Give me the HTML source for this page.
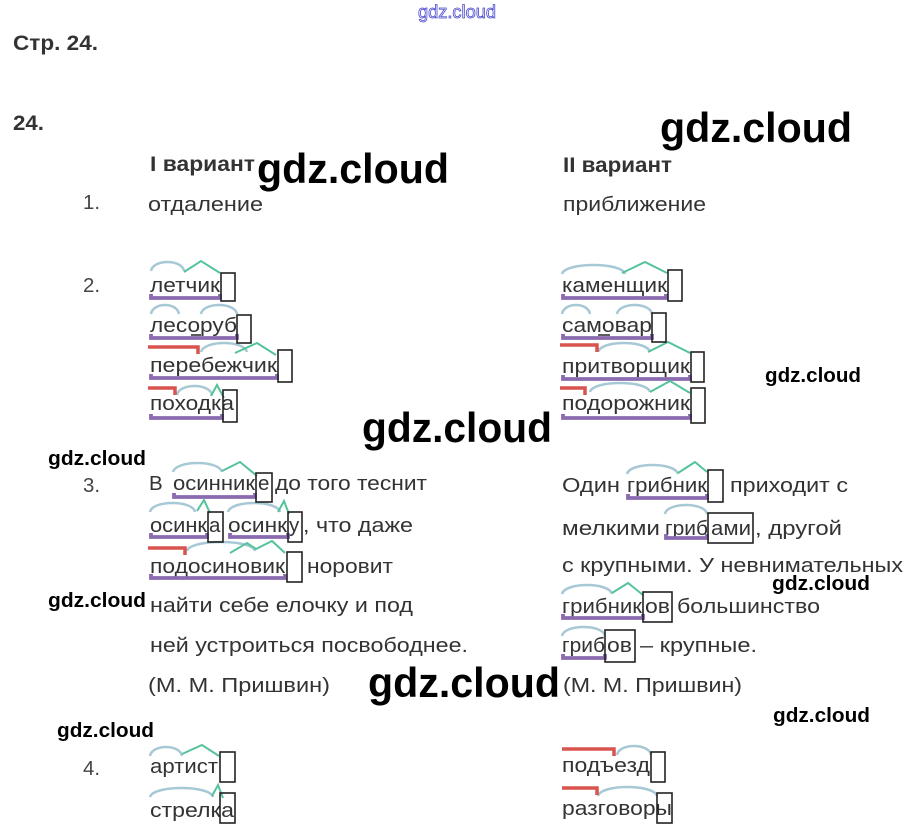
<!DOCTYPE html>
<html><head><meta charset="utf-8">
<style>
html,body{margin:0;padding:0;background:#fff;}
svg{display:block;}
text{font-family:"Liberation Sans",Arial,sans-serif;}
.t{font-size:20.5px;fill:#333;}
.n{font-size:20px;fill:#444;}
.b{font-size:21px;fill:#333;font-weight:bold;}
.wm{font-size:42px;fill:#000;font-weight:bold;}
.ws{font-size:20px;fill:#000;font-weight:bold;}
.arc{fill:none;stroke:#a7c8d5;stroke-width:2.5;}
.grn{fill:none;stroke:#55c39a;stroke-width:2;stroke-linejoin:miter;}
.pur{fill:none;stroke:#8a6bb0;stroke-width:3.8;}
.red{fill:none;stroke:#d9534f;stroke-width:3.5;}
.box{fill:none;stroke:#222;stroke-width:1.6;}
.ou{stroke:#333;stroke-width:1.6;}
</style></head>
<body>
<svg width="914" height="838" viewBox="0 0 914 838" xmlns="http://www.w3.org/2000/svg">
<rect width="914" height="838" fill="#fff"/>

<!-- header -->
<text x="418" y="18" font-size="18" fill="none" stroke="#4a4ad0" stroke-width="0.8" textLength="78" lengthAdjust="spacingAndGlyphs">gdz.cloud</text>
<text class="b" x="13" y="50" textLength="85" lengthAdjust="spacingAndGlyphs">Стр. 24.</text>
<text class="b" x="13" y="130" textLength="31" lengthAdjust="spacingAndGlyphs">24.</text>
<text class="b" x="150" y="171" textLength="105" lengthAdjust="spacingAndGlyphs">I вариант</text>
<text class="b" x="563" y="172" textLength="109" lengthAdjust="spacingAndGlyphs">II вариант</text>

<!-- numbers -->
<text class="n" x="83" y="209" textLength="17" lengthAdjust="spacingAndGlyphs">1.</text>
<text class="n" x="83" y="292" textLength="17" lengthAdjust="spacingAndGlyphs">2.</text>
<text class="n" x="83" y="492" textLength="17" lengthAdjust="spacingAndGlyphs">3.</text>
<text class="n" x="83" y="775" textLength="17" lengthAdjust="spacingAndGlyphs">4.</text>

<!-- section 1 -->
<text class="t" x="148" y="211" textLength="115" lengthAdjust="spacingAndGlyphs">отдаление</text>
<text class="t" x="563" y="211" textLength="143" lengthAdjust="spacingAndGlyphs">приближение</text>

<!-- section 2 left -->
<text class="t" x="150" y="292" textLength="70" lengthAdjust="spacingAndGlyphs">летчик</text>
<text class="t" x="150" y="332" textLength="87" lengthAdjust="spacingAndGlyphs">лесоруб</text>
<text class="t" x="150" y="372" textLength="127" lengthAdjust="spacingAndGlyphs">перебежчик</text>
<text class="t" x="150" y="410" textLength="84" lengthAdjust="spacingAndGlyphs">походка</text>

<!-- section 2 right -->
<text class="t" x="562" y="292" textLength="105" lengthAdjust="spacingAndGlyphs">каменщик</text>
<text class="t" x="562" y="332" textLength="90" lengthAdjust="spacingAndGlyphs">самовар</text>
<text class="t" x="562" y="373" textLength="128" lengthAdjust="spacingAndGlyphs">притворщик</text>
<text class="t" x="562" y="410" textLength="128" lengthAdjust="spacingAndGlyphs">подорожник</text>

<!-- section 3 left -->
<text class="t" x="149" y="490">В</text>
<text class="t" x="173" y="490" textLength="82" lengthAdjust="spacingAndGlyphs">осинник</text>
<text class="t" x="258" y="490">е</text>
<text class="t" x="275" y="490" textLength="152" lengthAdjust="spacingAndGlyphs">до того теснит</text>

<text class="t" x="150" y="532" textLength="57" lengthAdjust="spacingAndGlyphs">осинк</text>
<text class="t" x="209" y="532">а</text>
<text class="t" x="228" y="532" textLength="59" lengthAdjust="spacingAndGlyphs">осинк</text>
<text class="t" x="289" y="532">у</text>
<text class="t" x="303" y="532" textLength="110" lengthAdjust="spacingAndGlyphs">, что даже</text>

<text class="t" x="150" y="573" textLength="135" lengthAdjust="spacingAndGlyphs">подосиновик</text>
<text class="t" x="307" y="573" textLength="86" lengthAdjust="spacingAndGlyphs">норовит</text>
<text class="t" x="150" y="612" textLength="263" lengthAdjust="spacingAndGlyphs">найти себе елочку и под</text>
<text class="t" x="150" y="652" textLength="318" lengthAdjust="spacingAndGlyphs">ней устроиться посвободнее.</text>
<text class="t" x="148" y="692" textLength="182" lengthAdjust="spacingAndGlyphs">(М. М. Пришвин)</text>

<!-- section 3 right -->
<text class="t" x="562" y="492" textLength="58" lengthAdjust="spacingAndGlyphs">Один</text>
<text class="t" x="627" y="492" textLength="80" lengthAdjust="spacingAndGlyphs">грибник</text>
<text class="t" x="730" y="492" textLength="118" lengthAdjust="spacingAndGlyphs">приходит с</text>

<text class="t" x="562" y="535" textLength="98" lengthAdjust="spacingAndGlyphs">мелкими</text>
<text class="t" x="665" y="535" textLength="43" lengthAdjust="spacingAndGlyphs">гриб</text>
<text class="t" x="711" y="535" textLength="40" lengthAdjust="spacingAndGlyphs">ами</text>
<text class="t" x="755" y="535" textLength="87" lengthAdjust="spacingAndGlyphs">, другой</text>

<text class="t" x="562" y="572" textLength="341" lengthAdjust="spacingAndGlyphs">с крупными. У невнимательных</text>

<text class="t" x="562" y="613" textLength="80" lengthAdjust="spacingAndGlyphs">грибник</text>
<text class="t" x="645" y="613" textLength="25" lengthAdjust="spacingAndGlyphs">ов</text>
<text class="t" x="677" y="613" textLength="143" lengthAdjust="spacingAndGlyphs">большинство</text>

<text class="t" x="562" y="652" textLength="43" lengthAdjust="spacingAndGlyphs">гриб</text>
<text class="t" x="607" y="652" textLength="25" lengthAdjust="spacingAndGlyphs">ов</text>
<text class="t" x="640" y="652" textLength="117" lengthAdjust="spacingAndGlyphs">– крупные.</text>

<text class="t" x="563" y="692" textLength="179" lengthAdjust="spacingAndGlyphs">(М. М. Пришвин)</text>

<!-- section 4 -->
<text class="t" x="150" y="773" textLength="68" lengthAdjust="spacingAndGlyphs">артист</text>
<text class="t" x="150" y="817" textLength="84" lengthAdjust="spacingAndGlyphs">стрелка</text>
<text class="t" x="562" y="772" textLength="88" lengthAdjust="spacingAndGlyphs">подъезд</text>
<text class="t" x="562" y="815" textLength="110" lengthAdjust="spacingAndGlyphs">разговоры</text>

<!-- purple underlines (base) -->
<g class="pur">
<path d="M151 294 V298 H220 V294"/>
<path d="M151 334 V338 H237 V334"/>
<path d="M151 374 V378 H277 V374"/>
<path d="M151 414 V418 H222 V414"/>
<path d="M563 294 V298 H666 V294"/>
<path d="M563 334 V338 H652 V334"/>
<path d="M563 375 V379 H690 V375"/>
<path d="M563 414 V418 H690 V414"/>
<path d="M174 493 V497 H255 V493"/>
<path d="M151 533 V537 H207 V533"/>
<path d="M230 533 V537 H288 V533"/>
<path d="M151 574 V578 H285 V574"/>
<path d="M628 494 V498 H707 V494"/>
<path d="M666 534 V538 H707 V534"/>
<path d="M563 614 V618 H643 V614"/>
<path d="M563 654 V658 H605 V654"/>
</g>

<!-- connecting vowel underlines -->
<line class="ou" x1="191" y1="335" x2="201" y2="335"/>
<line class="ou" x1="598" y1="335" x2="610" y2="335"/>

<!-- blue root arcs -->
<g class="arc">
<path d="M151 271 C153 259, 182 259, 184 271"/>
<path d="M151 314 C153 302, 177 302, 179 314"/>
<path d="M201 314 C203 302, 235 302, 237 314"/>
<path d="M201 352 C204 340, 244 340, 247 352"/>
<path d="M177 395 C179 383, 210 383, 212 395"/>
<path d="M562 274 C565 262, 622 262, 625 274"/>
<path d="M562 314 C564 302, 588 302, 590 314"/>
<path d="M617 314 C619 302, 650 302, 652 314"/>
<path d="M598 352 C601 340, 647 340, 650 352"/>
<path d="M590 392 C593 380, 647 380, 650 392"/>
<path d="M173 472 C176 460, 219 460, 222 472"/>
<path d="M150 512 C152 500, 193 500, 195 512"/>
<path d="M228 512 C231 500, 277 500, 280 512"/>
<path d="M187 551 C190 539, 252 539, 255 551"/>
<path d="M627 474 C630 462, 675 462, 678 474"/>
<path d="M665 514 C667 502, 705 502, 707 514"/>
<path d="M562 594 C565 582, 609 582, 612 594"/>
<path d="M562 636 C564 624, 603 624, 605 636"/>
<path d="M150 756 C152 744, 180 744, 182 756"/>
<path d="M150 797 C153 785, 210 785, 213 797"/>
<path d="M617 755 C619 743, 649 743, 651 755"/>
<path d="M598 796 C601 784, 654 784, 657 796"/>
</g>

<!-- green suffix carets -->
<g class="grn">
<polyline points="184,272 201,261 220,273"/>
<polyline points="235,353 257,343 276,355"/>
<polyline points="211,396 217,385 224,398"/>
<polyline points="622,273 645,262 667,273"/>
<polyline points="648,352 668,342 690,353"/>
<polyline points="650,392 670,381 690,393"/>
<polyline points="222,471 240,462 257,476"/>
<polyline points="197,511 204,500 210,513"/>
<polyline points="278,512 284,501 289,514"/>
<polyline points="230,553 247,543 256,549 272,541 285,553"/>
<polyline points="678,473 695,462 707,472"/>
<polyline points="612,593 628,583 643,595"/>
<polyline points="182,754 202,745 219,756"/>
<polyline points="212,796 218,785 223,798"/>
</g>

<!-- red prefixes -->
<g class="red">
<path d="M148 347 H198 V354"/>
<path d="M148 388 H175 V395"/>
<path d="M560 345 H597 V352"/>
<path d="M560 388 H585 V395"/>
<path d="M148 548 H185 V555"/>
<path d="M562 749 H614 V756"/>
<path d="M562 788 H597 V795"/>
</g>

<!-- ending boxes -->
<g class="box">
<rect x="221" y="273" width="14" height="28"/>
<rect x="237" y="315" width="14" height="28"/>
<rect x="278" y="350" width="14" height="32"/>
<rect x="223" y="390" width="14" height="32"/>
<rect x="668" y="270" width="14" height="31"/>
<rect x="652" y="313" width="14" height="29"/>
<rect x="691" y="352" width="13" height="30"/>
<rect x="691" y="388" width="14" height="35"/>
<rect x="256" y="473" width="16" height="29"/>
<rect x="208" y="512" width="15" height="30"/>
<rect x="288" y="512" width="14" height="30"/>
<rect x="287" y="552" width="15" height="30"/>
<rect x="708" y="470" width="15" height="32"/>
<rect x="708" y="513" width="45" height="30"/>
<rect x="643" y="592" width="29" height="30"/>
<rect x="605" y="630" width="30" height="32"/>
<rect x="220" y="752" width="15" height="30"/>
<rect x="220" y="793" width="15" height="30"/>
<rect x="651" y="752" width="14" height="30"/>
<rect x="657" y="793" width="15" height="30"/>
</g>

<!-- watermarks -->
<text class="wm" x="257" y="183" textLength="192" lengthAdjust="spacingAndGlyphs">gdz.cloud</text>
<text class="wm" x="660" y="142" textLength="192" lengthAdjust="spacingAndGlyphs">gdz.cloud</text>
<text class="wm" x="362" y="442" textLength="190" lengthAdjust="spacingAndGlyphs">gdz.cloud</text>
<text class="wm" x="368" y="697" textLength="192" lengthAdjust="spacingAndGlyphs">gdz.cloud</text>

<text class="ws" x="765" y="382" textLength="96" lengthAdjust="spacingAndGlyphs">gdz.cloud</text>
<text class="ws" x="48" y="465" textLength="98" lengthAdjust="spacingAndGlyphs">gdz.cloud</text>
<text class="ws" x="772" y="590" textLength="98" lengthAdjust="spacingAndGlyphs">gdz.cloud</text>
<text class="ws" x="48" y="607" textLength="98" lengthAdjust="spacingAndGlyphs">gdz.cloud</text>
<text class="ws" x="773" y="722" textLength="97" lengthAdjust="spacingAndGlyphs">gdz.cloud</text>
<text class="ws" x="57" y="737" textLength="97" lengthAdjust="spacingAndGlyphs">gdz.cloud</text>
</svg>
</body></html>
